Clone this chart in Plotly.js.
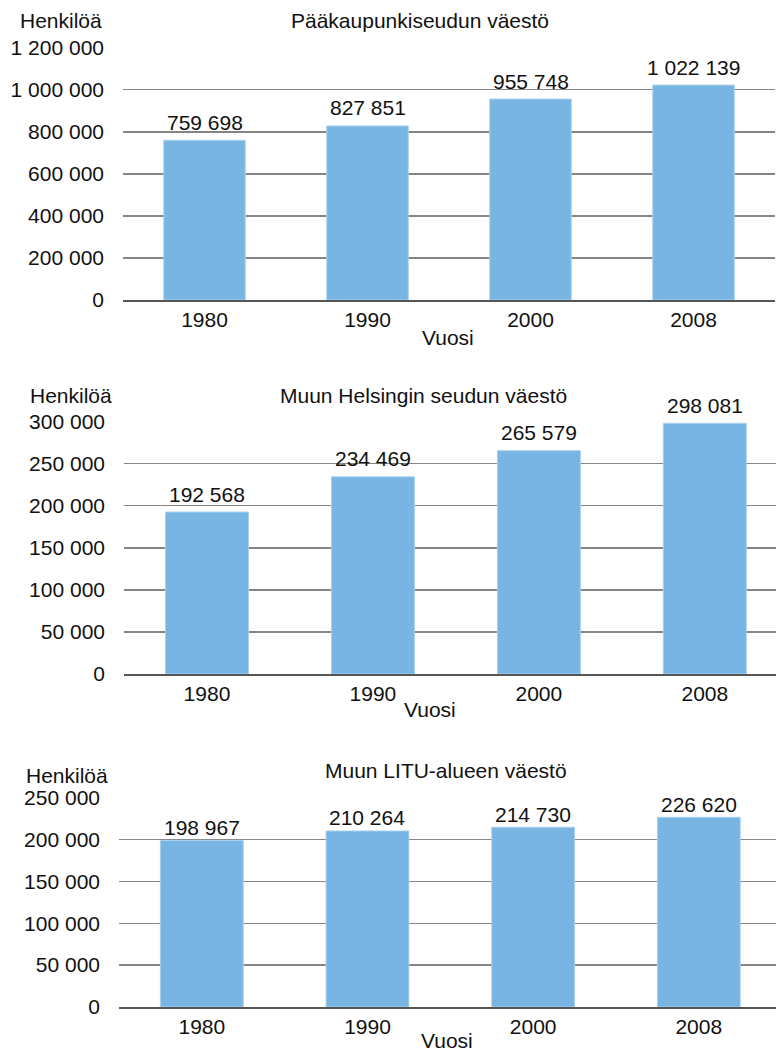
<!DOCTYPE html>
<html>
<head>
<meta charset="utf-8">
<script src="https://cdn.plot.ly/plotly-3.0.1.min.js"></script>
<style>html,body{margin:0;padding:0;background:#fff;}#chart{width:776px;height:1052px;}</style>
</head>
<body>
<div id="chart"></div>
<script>
const years = ["1980", "1990", "2000", "2008"];
const capitalRegion = [759698, 827851, 955748, 1022139];
const otherHelsinkiRegion = [192568, 234469, 265579, 298081];
const otherLituArea = [198967, 210264, 214730, 226620];

const titles = ["Pääkaupunkiseudun väestö", "Muun Helsingin seudun väestö", "Muun LITU-alueen väestö"];
const yTickVals1 = [0, 200000, 400000, 600000, 800000, 1000000, 1200000];
const yTickText1 = ["0", "200 000", "400 000", "600 000", "800 000", "1 000 000", "1 200 000"];
const yTickVals2 = [0, 50000, 100000, 150000, 200000, 250000, 300000];
const yTickText2 = ["0", "50 000", "100 000", "150 000", "200 000", "250 000", "300 000"];
const yTickVals3 = [0, 50000, 100000, 150000, 200000, 250000];
const yTickText3 = ["0", "50 000", "100 000", "150 000", "200 000", "250 000"];
const yLabel = "Henkilöä";
const xLabel = "Vuosi";

const W = 776, H = 1052;
const FONT = "Liberation Sans, Arial, sans-serif";
const FS = 21;
const barColor = "#79b5e3";

function fmt(v) { return String(v).replace(/\B(?=(\d{3})+(?!\d))/g, " "); }

function bar(values, xa, ya) {
  return {
    type: "bar", x: years, y: values, xaxis: xa, yaxis: ya,
    marker: {color: barColor, line: {color: "#a9d0ef", width: 1}},
    hoverinfo: "skip"
  };
}

const data = [
  bar(capitalRegion, "x", "y"),
  bar(otherHelsinkiRegion, "x2", "y2"),
  bar(otherLituArea, "x3", "y3")
];

function xd(l, r) { return [l / W, r / W]; }
function yd(top, bottom) { return [(H - bottom) / H, (H - top) / H]; }

function xaxis(domain, range, anchor) {
  return {
    domain: domain, range: range, anchor: anchor, type: "category",
    showgrid: false, showline: true, linecolor: "#555", linewidth: 2,
    ticks: "", ticklabelstandoff: 0,
    tickfont: {family: FONT, size: FS, color: "#111"}, fixedrange: true
  };
}
function yaxis(domain, range, tv, tt, anchor) {
  return {
    domain: domain, range: range, anchor: anchor,
    tickvals: tv, ticktext: tt, showgrid: true, gridcolor: "#858585", gridwidth: 1.4,
    zeroline: false, showline: false, ticks: "", ticklabelstandoff: 18,
    tickfont: {family: FONT, size: FS, color: "#111"}, fixedrange: true
  };
}

function ann(text, x, y, xanchor) {
  return {text: text, x: x / W, y: 1 - y / H, xref: "paper", yref: "paper",
    xanchor: xanchor || "center", yanchor: "middle", showarrow: false,
    font: {family: FONT, size: FS, color: "#111"}};
}

function valueLabels(values, xr, yr, shift) {
  return values.map((v, i) => ({
    text: fmt(v), x: i, y: v, xref: xr, yref: yr,
    xanchor: "center", yanchor: "middle", yshift: shift, showarrow: false,
    font: {family: FONT, size: FS, color: "#111"}
  }));
}

const layout = {
  width: W, height: H, margin: {l: 0, r: 0, t: 0, b: 0},
  paper_bgcolor: "#fff", plot_bgcolor: "#fff",
  showlegend: false, bargap: 0.5,
  xaxis: xaxis(xd(123, 775), [-0.5, 3.5], "y"),
  yaxis: yaxis(yd(47.7, 300), [0, 1200000], yTickVals1, yTickText1, "x"),
  xaxis2: xaxis(xd(124, 776), [-0.5, 3.429], "y2"),
  yaxis2: yaxis(yd(421.7, 674), [0, 300000], yTickVals2, yTickText2, "x2"),
  xaxis3: xaxis(xd(119, 776), [-0.5, 3.466], "y3"),
  yaxis3: yaxis(yd(797.7, 1007), [0, 250000], yTickVals3, yTickText3, "x3"),
  annotations: [
    ann(yLabel, 18, 20, "left"),
    ann(titles[0], 289, 20, "left"),
    ann(xLabel, 448, 337),
    ann(yLabel, 28, 395, "left"),
    ann(titles[1], 278, 395, "left"),
    ann(xLabel, 430, 709),
    ann(yLabel, 24, 775, "left"),
    ann(titles[2], 323, 770, "left"),
    ann(xLabel, 447, 1040)
  ].concat(
    valueLabels(capitalRegion, "x", "y", 18),
    valueLabels(otherHelsinkiRegion, "x2", "y2", 18),
    valueLabels(otherLituArea, "x3", "y3", 13)
  )
};

Plotly.newPlot("chart", data, layout, {staticPlot: true, displayModeBar: false});
</script>
</body>
</html>
